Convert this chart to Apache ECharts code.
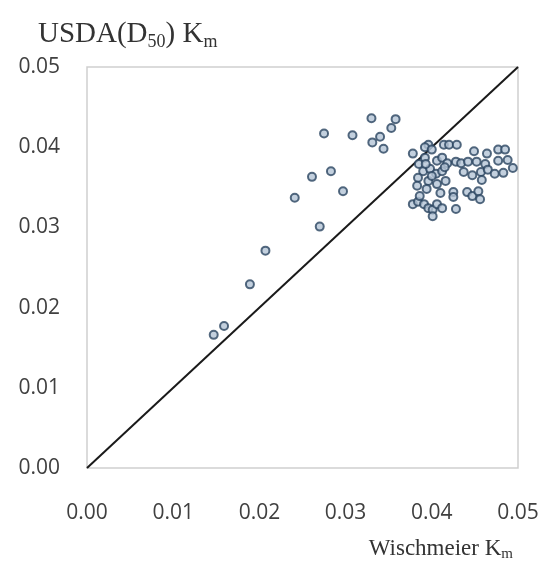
<!DOCTYPE html>
<html>
<head>
<meta charset="utf-8">
<script src="https://cdn.jsdelivr.net/npm/echarts@6/dist/echarts.min.js"></script>
<style>
html,body{margin:0;padding:0;background:#fff;}
#chart{width:545px;height:563px;}
</style>
</head>
<body>
<div id="chart"></div>
<script>
// Wischmeier Km (x) and USDA(D50) Km (y)
const wischmeier = [
  0.0147, 0.0159, 0.0189, 0.0207, 0.0241, 0.0261, 0.0270, 0.0283, 0.0297,
  0.0275, 0.0308, 0.0330, 0.0340, 0.0331, 0.0344, 0.0353, 0.0358,
  0.0396, 0.0414, 0.0420, 0.0429, 0.0378, 0.0392, 0.0400, 0.0449, 0.0464,
  0.0477, 0.0485, 0.0385, 0.0392, 0.0406, 0.0412, 0.0418, 0.0428, 0.0434,
  0.0442, 0.0452, 0.0462, 0.0477, 0.0488, 0.0494, 0.0437, 0.0447, 0.0457,
  0.0465, 0.0473, 0.0483, 0.0458, 0.0390, 0.0398, 0.0405, 0.0412, 0.0384,
  0.0396, 0.0406, 0.0416, 0.0383, 0.0394, 0.0410, 0.0425, 0.0425, 0.0441,
  0.0447, 0.0454, 0.0456, 0.0378, 0.0384, 0.0391, 0.0396, 0.0401, 0.0406,
  0.0412, 0.0401, 0.0428, 0.0386, 0.0400, 0.0415, 0.0393
];
const usda = [
  0.0166, 0.0177, 0.0229, 0.0271, 0.0337, 0.0363, 0.0301, 0.0370, 0.0345,
  0.0417, 0.0415, 0.0436, 0.0413, 0.0406, 0.0398, 0.0424, 0.0435,
  0.0403, 0.0403, 0.0403, 0.0403, 0.0392, 0.0400, 0.0397, 0.0395, 0.0392,
  0.0397, 0.0397, 0.0379, 0.0387, 0.0383, 0.0387, 0.0380, 0.0382, 0.0380,
  0.0382, 0.0382, 0.0379, 0.0383, 0.0384, 0.0374, 0.0369, 0.0365, 0.0369,
  0.0372, 0.0367, 0.0368, 0.0359, 0.0370, 0.0373, 0.0367, 0.0370, 0.0362,
  0.0358, 0.0354, 0.0358, 0.0352, 0.0348, 0.0343, 0.0344, 0.0338, 0.0344,
  0.0339, 0.0345, 0.0335, 0.0329, 0.0332, 0.0329, 0.0324, 0.0322, 0.0329,
  0.0324, 0.0314, 0.0323, 0.0339, 0.0364, 0.0375, 0.0379
];
// 1:1 reference line
const lineX = [0, 0.05];
const lineY = [0, 0.05];
const ticks = [0, 0.01, 0.02, 0.03, 0.04, 0.05];

const points = wischmeier.map((x, i) => [x, usda[i]]);
const line = lineX.map((x, i) => [x, lineY[i]]);

const chart = echarts.init(document.getElementById('chart'), null, {renderer: 'canvas'});
const labelStyle = {fontFamily: 'Open Sans', fontSize: 21, color: '#404040'};
chart.setOption({
  animation: false,
  backgroundColor: '#ffffff',
  title: [
    {
      text: '{a|USDA(D}{s|50}{a|) K}{s|m}',
      left: 33, top: 12,
      textStyle: {
        fontWeight: 'normal',
        rich: {
          a: {fontFamily: 'Liberation Serif', fontSize: 29, fontWeight: 'normal', color: '#333333', lineHeight: 34},
          s: {fontFamily: 'Liberation Serif', fontSize: 18, fontWeight: 'normal', color: '#333333', lineHeight: 18, verticalAlign: 'bottom'}
        }
      }
    },
    {
      text: '{a|Wischmeier K}{s|m}',
      right: 27, top: 530,
      textStyle: {
        fontWeight: 'normal',
        rich: {
          a: {fontFamily: 'Liberation Serif', fontSize: 23, fontWeight: 'normal', color: '#333333', lineHeight: 27},
          s: {fontFamily: 'Liberation Serif', fontSize: 15, fontWeight: 'normal', color: '#333333', lineHeight: 15, verticalAlign: 'bottom'}
        }
      }
    }
  ],
  grid: {
    left: 87, right: 27, top: 67, bottom: 95,
    show: true, borderColor: '#cfcfcf', borderWidth: 1.5, backgroundColor: '#ffffff'
  },
  xAxis: {
    type: 'value', min: ticks[0], max: ticks[ticks.length - 1], interval: 0.01,
    axisLine: {show: false}, axisTick: {show: false}, splitLine: {show: false},
    axisLabel: Object.assign({margin: 35, formatter: v => v.toFixed(2)}, labelStyle)
  },
  yAxis: {
    type: 'value', min: ticks[0], max: ticks[ticks.length - 1], interval: 0.01,
    axisLine: {show: false}, axisTick: {show: false}, splitLine: {show: false},
    axisLabel: Object.assign({margin: 27, formatter: v => v.toFixed(2)}, labelStyle)
  },
  series: [
    {
      type: 'line', data: line, symbol: 'none',
      lineStyle: {color: '#1a1a1a', width: 2}, z: 2
    },
    {
      type: 'scatter', data: points, symbol: 'circle', symbolSize: 8,
      itemStyle: {color: '#b4c4d6', borderColor: '#2a4560', borderWidth: 2}, z: 3
    }
  ]
});
</script>
</body>
</html>
